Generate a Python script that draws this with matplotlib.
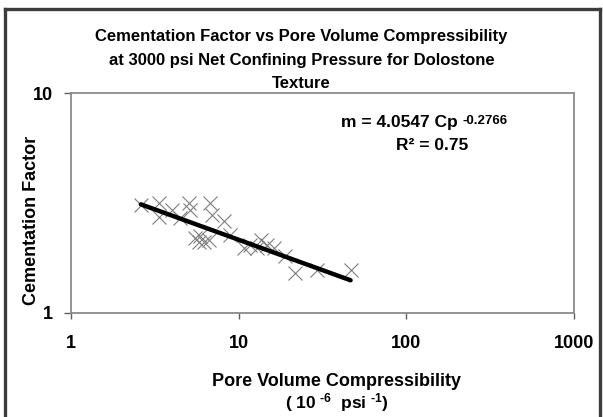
# Libraries
import matplotlib.pyplot as plt
from matplotlib.lines import Line2D
from matplotlib.ticker import NullLocator
import numpy as np

# Fonts
plt.rcParams['font.family'] = ['Liberation Sans', 'DejaVu Sans']
plt.rcParams['font.weight'] = 'bold'
plt.rcParams['mathtext.fontset'] = 'custom'
plt.rcParams['mathtext.rm'] = 'Liberation Sans:bold'
plt.rcParams['mathtext.it'] = 'Liberation Sans:bold'
plt.rcParams['mathtext.bf'] = 'Liberation Sans:bold'

# Data
cp = [2.61, 3.37, 3.37, 4.0, 4.48, 5.03, 5.14, 6.78, 6.93, 8.13, 8.92,
      5.51, 5.77, 6.18, 6.62, 5.90, 10.7, 11.7, 13.5, 12.9, 16.2, 19.0,
      21.8, 29.4, 46.5, 14.8]
m_fac = [3.10, 3.17, 2.72, 2.94, 2.69, 3.15, 2.94, 3.15, 2.79, 2.60, 2.26,
         2.18, 2.10, 2.10, 2.14, 2.22, 1.96, 2.03, 2.14, 1.96, 1.96, 1.80,
         1.51, 1.56, 1.56, 2.03]
coef, expo = 4.0547, -0.2766   # trendline from the chart's label
r2 = 0.75
x_ticks = [1, 10, 100, 1000]
x_ticklabels = ['1', '10', '100', '1000']
y_ticks = [1, 10]
y_ticklabels = ['1', '10']

W, H = 603, 417
fig = plt.figure(figsize=(W / 100, H / 100), dpi=100)
ax = fig.add_axes([71 / W, 1 - 312.5 / H, (574 - 71) / W, (312.5 - 93) / H])

# Scatter points and power trendline
ax.plot(cp, m_fac, linestyle='none', marker='x', markersize=10,
        markeredgewidth=0.8, color='#7f7f7f')
xs = np.array([min(cp), max(cp)])
ax.plot(xs, coef * xs ** expo, color='black', linewidth=3.2, solid_capstyle='round')

ax.set_xscale('log')
ax.set_yscale('log')
ax.set_xlim(1, 1000)
ax.set_ylim(1, 10)
ax.xaxis.set_minor_locator(NullLocator())
ax.yaxis.set_minor_locator(NullLocator())
ax.set_xticks(x_ticks)
ax.set_xticklabels(x_ticklabels, fontsize=13, fontweight='bold')
ax.set_yticks(y_ticks)
ax.set_yticklabels(y_ticklabels, fontsize=13, fontweight='bold')
ax.tick_params(axis='x', direction='out', length=4, width=1, color='#606060', pad=12)
ax.tick_params(axis='y', direction='out', length=5, width=1, color='#606060', pad=8)
for s in ax.spines.values():
    s.set_color('#8a8a8a')
    s.set_linewidth(1.3)

# Title
fig.text(0.5, 1 - 36 / H, 'Cementation Factor vs Pore Volume Compressibility',
         ha='center', va='center', fontsize=12, fontweight='bold')
fig.text(0.5, 1 - 60 / H, 'at 3000 psi Net Confining Pressure for Dolostone',
         ha='center', va='center', fontsize=12, fontweight='bold')
fig.text(0.5, 1 - 83 / H, 'Texture',
         ha='center', va='center', fontsize=12, fontweight='bold')

# Trendline label
fig.text(458 / W, 1 - 127 / H, f'm = {coef} Cp',
         ha='right', va='baseline', fontsize=12.5, fontweight='bold')
fig.text(463 / W, 1 - 124 / H, f'{expo}',
         ha='left', va='baseline', fontsize=9.5, fontweight='bold')
fig.text(468 / W, 1 - 150 / H, f'R² = {r2}',
         ha='right', va='baseline', fontsize=12.5, fontweight='bold')

# Axis titles
fig.text(337 / W, 1 - 381 / H, 'Pore Volume Compressibility',
         ha='center', va='center', fontsize=13, fontweight='bold')
fig.text(337 / W, 1 - 403 / H, '$(\\ 10^{\\ \u20106}\\ \\ psi^{\\ \u20101})$',
         ha='center', va='center', fontsize=12.5)
fig.text(32 / W, 1 - 220 / H, 'Cementation Factor', rotation=90,
         ha='center', va='center', fontsize=13, fontweight='bold')

# Outer frame (left, top, right)
fc = '#3c3c3c'
fig.add_artist(Line2D([5 / W, 5 / W], [-0.01, 1 - 9 / H], color=fc, linewidth=2.4))
fig.add_artist(Line2D([5 / W, 600 / W], [1 - 9 / H, 1 - 9 / H], color=fc, linewidth=2.4))
fig.add_artist(Line2D([600 / W, 600 / W], [-0.01, 1 - 9 / H], color=fc, linewidth=2.4))

fig.savefig('out.png', dpi=100, facecolor='white')
